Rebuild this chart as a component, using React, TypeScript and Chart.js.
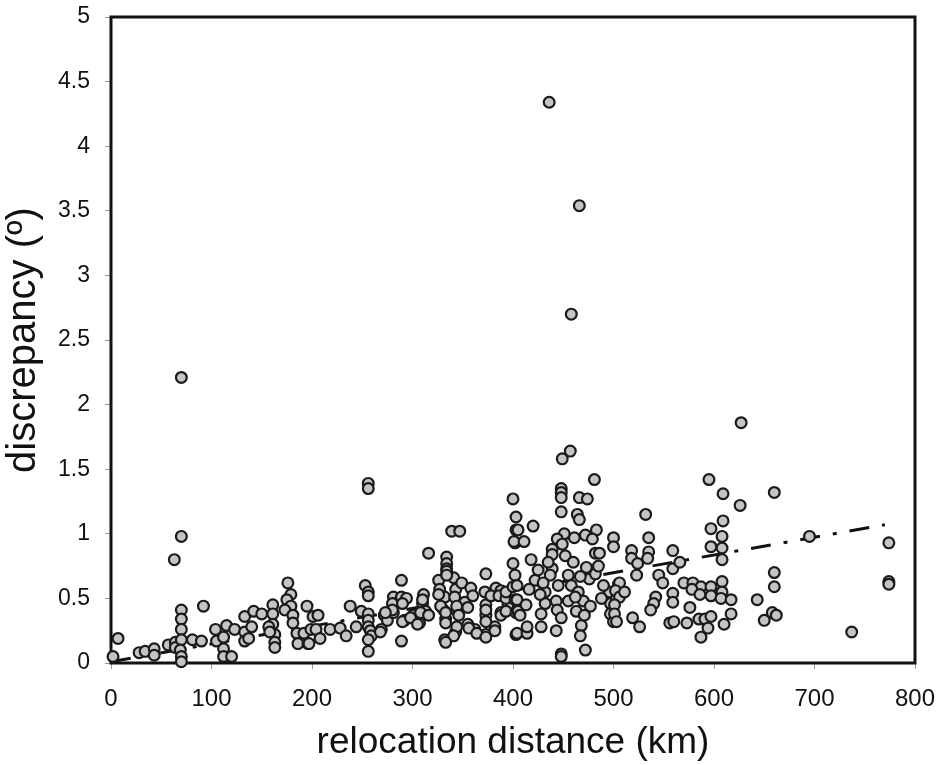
import { useEffect, useRef } from "react";
import { Chart, registerables } from "chart.js";

Chart.register(...registerables);

// [relocation distance (km), discrepancy (deg)]
const pts0to200: number[][] = [
  [2, 0.05], [7, 0.19], [28, 0.08], [34, 0.09], [43, 0.11], [43, 0.06], [57, 0.14], [64, 0.16], [64, 0.12],
  [63, 0.8], [70, 2.21], [70, 0.98], [70, 0.41], [70, 0.34], [70, 0.26], [70, 0.18], [69, 0.1], [70, 0.05], [70, 0.01],
  [81, 0.18], [90, 0.17], [92, 0.44], [104, 0.26], [105, 0.17], [115, 0.29], [112, 0.2], [112, 0.11], [112, 0.05],
  [120, 0.05], [123, 0.26], [133, 0.36], [142, 0.4], [150, 0.38], [133, 0.24], [140, 0.28], [133, 0.17], [137, 0.19],
  [161, 0.45], [161, 0.38], [161, 0.3], [157, 0.28], [163, 0.22], [163, 0.16], [163, 0.12], [158, 0.24],
  [176, 0.62], [179, 0.53], [175, 0.49], [179, 0.44], [173, 0.41], [181, 0.37], [181, 0.31], [185, 0.23],
  [186, 0.15], [196, 0.15], [195, 0.44], [192, 0.23], [199, 0.26],
];
const pts200to400: number[][] = [
  [201, 0.36], [206, 0.37], [204, 0.26], [208, 0.19], [197, 0.15], [218, 0.26], [228, 0.27], [234, 0.21], [238, 0.44],
  [249, 0.4], [244, 0.28], [256, 1.39], [256, 1.35], [253, 0.6], [256, 0.55], [256, 0.52], [256, 0.38], [256, 0.33],
  [256, 0.28], [258, 0.25], [259, 0.21], [256, 0.18], [256, 0.09], [269, 0.26], [272, 0.37], [275, 0.33], [281, 0.51],
  [283, 0.46], [281, 0.39], [289, 0.64], [289, 0.51], [294, 0.5], [289, 0.17], [292, 0.33], [301, 0.37], [307, 0.31],
  [311, 0.53], [316, 0.85], [310, 0.46], [313, 0.4], [326, 0.64], [327, 0.57], [334, 0.82], [334, 0.77], [334, 0.73],
  [332, 0.51], [331, 0.41], [333, 0.34], [332, 0.18], [339, 1.02], [347, 1.02], [341, 0.66], [343, 0.57], [344, 0.41],
  [343, 0.24], [349, 0.62], [352, 0.47], [355, 0.3], [358, 0.58], [362, 0.26], [373, 0.69], [372, 0.55], [373, 0.45],
  [373, 0.37], [373, 0.22], [383, 0.58], [382, 0.28], [388, 0.56], [388, 0.39], [280, 0.46], [290, 0.46], [310, 0.49],
  [326, 0.53], [342, 0.51], [360, 0.52], [378, 0.52], [386, 0.52], [399, 0.45], [280, 0.41], [273, 0.39], [290, 0.32],
  [298, 0.35], [308, 0.39], [316, 0.37], [305, 0.3], [328, 0.44], [333, 0.39], [333, 0.31], [344, 0.44], [346, 0.37],
  [344, 0.28], [341, 0.21], [333, 0.16], [355, 0.43], [356, 0.27], [364, 0.23], [373, 0.41], [373, 0.32], [373, 0.2],
  [382, 0.25], [388, 0.37], [395, 0.45], [268, 0.24], [334, 0.71], [334, 0.68], [393, 0.4], [393, 0.5], [393, 0.55],
];
const pts400to500: number[][] = [
  [400, 1.27], [403, 1.13], [403, 1.03], [402, 0.93], [400, 0.77], [402, 0.68], [400, 0.59], [402, 0.49], [403, 0.39],
  [403, 0.22], [436, 4.34], [466, 3.54], [458, 2.7], [457, 1.64], [449, 1.58], [481, 1.42], [448, 1.35], [448, 1.32],
  [448, 1.28], [448, 1.17], [466, 1.28], [474, 1.27], [464, 1.15], [466, 1.11], [420, 1.06], [405, 1.03], [401, 0.94],
  [411, 0.94], [483, 1.03], [472, 0.99], [461, 0.97], [451, 1.0], [444, 0.96], [439, 0.88], [449, 0.92], [439, 0.84],
  [479, 0.96], [482, 0.85], [486, 0.85], [404, 0.6], [404, 0.49], [405, 0.4], [407, 0.37], [404, 0.23], [414, 0.23],
  [414, 0.28], [422, 0.64], [416, 0.57], [413, 0.45], [428, 0.38], [428, 0.28], [432, 0.55], [432, 0.46], [439, 0.73],
  [437, 0.68], [443, 0.48], [444, 0.41], [443, 0.25], [448, 0.35], [448, 0.07], [448, 0.05], [455, 0.68], [455, 0.48],
  [458, 0.6], [463, 0.4], [465, 0.55], [468, 0.29], [467, 0.21], [472, 0.1], [470, 0.48], [473, 0.74], [476, 0.65],
  [482, 0.69], [477, 0.44], [471, 0.37], [496, 0.55], [497, 0.46], [497, 0.38], [462, 0.51], [467, 0.67], [425, 0.72],
  [430, 0.62], [418, 0.8], [435, 0.78], [427, 0.53], [445, 0.6], [452, 0.83], [460, 0.78], [490, 0.6], [488, 0.5],
  [485, 0.75],
];
const pts500to600: number[][] = [
  [500, 0.97], [500, 0.9], [505, 0.61], [503, 0.5], [500, 0.32], [510, 0.55], [518, 0.87], [518, 0.81], [535, 0.97],
  [535, 0.86], [534, 0.81], [532, 1.15], [523, 0.68], [524, 0.77], [559, 0.87], [559, 0.73], [566, 0.78], [545, 0.68],
  [549, 0.62], [559, 0.54], [559, 0.47], [542, 0.51], [540, 0.46], [537, 0.41], [570, 0.62], [579, 0.62], [587, 0.59],
  [578, 0.57], [586, 0.53], [576, 0.43], [585, 0.34], [591, 0.34], [573, 0.31], [556, 0.31], [560, 0.32], [587, 0.2],
  [519, 0.35], [526, 0.28], [595, 1.42], [597, 1.04], [597, 0.9], [506, 0.62], [502, 0.56], [506, 0.51], [501, 0.45],
  [501, 0.38], [503, 0.32], [511, 0.55], [594, 0.27], [597, 0.59], [597, 0.52], [597, 0.36],
];
const pts600to800: number[][] = [
  [627, 1.86], [609, 1.31], [660, 1.32], [626, 1.22], [609, 1.1], [608, 0.98], [608, 0.89], [608, 0.8], [695, 0.98],
  [774, 0.93], [774, 0.63], [774, 0.61], [737, 0.24], [660, 0.7], [660, 0.59], [608, 0.63], [608, 0.55], [607, 0.5],
  [617, 0.49], [643, 0.49], [617, 0.38], [658, 0.39], [662, 0.37], [650, 0.33], [610, 0.3],
];

const trendDistanceKm = [0, 770];
const trendDiscrepancyDeg = [0.01, 1.07];

const xTickValues = [0, 100, 200, 300, 400, 500, 600, 700, 800];
const yTickValues = [0, 0.5, 1, 1.5, 2, 2.5, 3, 3.5, 4, 4.5, 5];

const xTitle = "relocation distance (km)";
const yTitle = "discrepancy (º)";

const FONT = "'Liberation Sans', Arial, sans-serif";

const framePlugin = {
  id: "frame",
  beforeDatasetsDraw(chart: any) {
    const { ctx, chartArea } = chart;
    const { left, top, right, bottom } = chartArea;
    ctx.save();
    ctx.strokeStyle = "#111";
    ctx.lineWidth = 3;
    ctx.strokeRect(left, top, right - left, bottom - top);
    ctx.restore();
  },
};

export default function App() {
  const ref = useRef<HTMLCanvasElement | null>(null);

  useEffect(() => {
    if (!ref.current) return;
    const allPts = [...pts0to200, ...pts200to400, ...pts400to500, ...pts500to600, ...pts600to800];
    const scatterData = allPts.map((p) => ({ x: p[0], y: p[1] }));
    const trendData = trendDistanceKm.map((x, i) => ({ x, y: trendDiscrepancyDeg[i] }));

    const chart = new Chart(ref.current, {
      type: "scatter",
      data: {
        datasets: [
          {
            label: "points",
            data: scatterData,
            pointRadius: 5.4,
            pointBorderWidth: 2.2,
            pointBackgroundColor: "#c4c4c4",
            pointBorderColor: "#1a1a1a",
            clip: false,
          } as any,
          {
            label: "trend",
            type: "line",
            data: trendData,
            showLine: true,
            borderColor: "#111",
            borderWidth: 3,
            borderDash: [20, 13, 4, 13],
            pointRadius: 0,
            fill: false,
          } as any,
        ],
      },
      options: {
        responsive: false,
        animation: false,
        events: [],
        layout: { padding: { top: 17, right: 29, left: 0, bottom: 0 } },
        plugins: { legend: { display: false }, tooltip: { enabled: false } },
        scales: {
          x: {
            type: "linear",
            min: 0,
            max: 800,
            afterFit: (s: any) => {
              s.height = 102;
              s.paddingLeft = 0;
              s.paddingRight = 0;
            },
            afterBuildTicks: (s: any) => {
              s.ticks = xTickValues.map((v) => ({ value: v }));
            },
            border: { display: false },
            grid: { drawOnChartArea: false, drawTicks: true, tickLength: 6, color: "#9a9a9a", lineWidth: 1 },
            ticks: {
              padding: 16,
              color: "#111",
              font: { family: FONT, size: 24 },
              maxRotation: 0,
              callback: (v: any) => String(v),
            },
            title: {
              display: true,
              text: xTitle,
              color: "#111",
              font: { family: FONT, size: 37 },
              padding: { top: 0, bottom: 0 },
            },
          },
          y: {
            type: "linear",
            min: 0,
            max: 5,
            afterFit: (s: any) => {
              s.width = 111;
              s.paddingTop = 0;
              s.paddingBottom = 0;
            },
            afterBuildTicks: (s: any) => {
              s.ticks = yTickValues.map((v) => ({ value: v }));
            },
            border: { display: false },
            grid: { drawOnChartArea: false, drawTicks: true, tickLength: 6, color: "#9a9a9a", lineWidth: 1 },
            ticks: {
              padding: 15,
              color: "#111",
              font: { family: FONT, size: 23 },
              callback: (v: any) => String(v),
            },
            title: {
              display: true,
              text: yTitle,
              color: "#111",
              font: { family: FONT, size: 40 },
              padding: { top: 0, bottom: 0 },
            },
          },
        },
      },
      plugins: [framePlugin],
    });
    return () => chart.destroy();
  }, []);

  return (
    <div style={{ position: "absolute", left: 0, top: 0, width: 944, height: 765, background: "#fff" }}>
      <canvas ref={ref} width={944} height={765} style={{ width: 944, height: 765, display: "block" }} />
    </div>
  );
}
